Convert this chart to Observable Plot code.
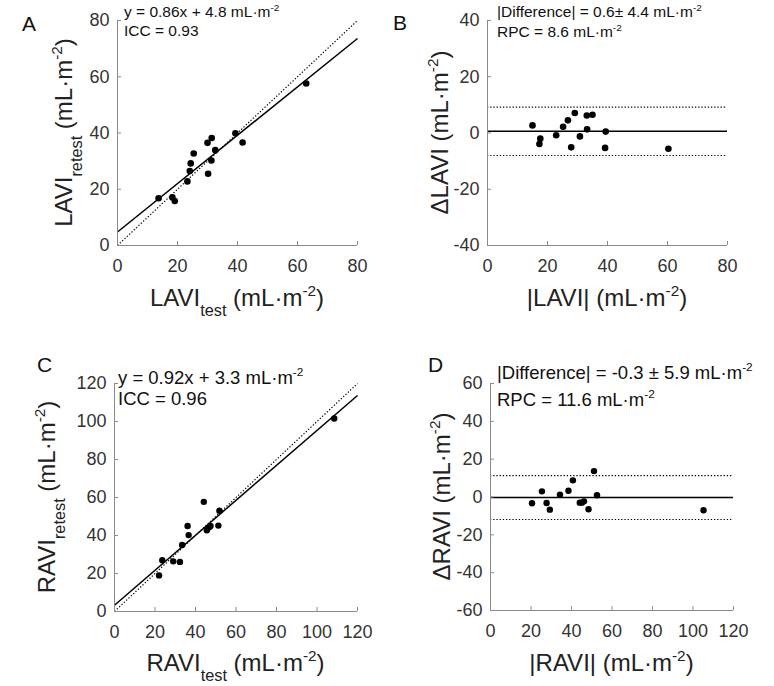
<!DOCTYPE html>
<html>
<head>
<meta charset="utf-8">
<script src="https://cdn.jsdelivr.net/npm/d3@7"></script>
<script src="https://cdn.jsdelivr.net/npm/@observablehq/plot@0.6"></script>
<style>
  body { margin: 0; background: #fff; }
  #fig { position: relative; width: 774px; height: 686px; overflow: hidden; background: #fff; }
  #fig svg { position: absolute; left: 0; top: 0; }
</style>
</head>
<body>
<div id="fig"></div>
<script>
// ---- Left atrial volume index (mL·m^-2), test vs retest ----
const laviTest   = [13.7, 18.3, 19.1, 23.3, 24.1, 24.4, 25.4, 30.0, 30.2, 31.4, 31.3, 32.6, 39.3, 41.7, 62.9];
const laviRetest = [16.8, 17.1, 15.8, 22.8, 26.5, 29.2, 32.7, 36.5, 25.5, 38.2, 30.2, 33.9, 39.9, 36.6, 57.6];
const laviSlope = 0.86, laviIntercept = 4.8, laviIcc = 0.93;

// Bland–Altman for LAVI: mean of the pair vs retest − test
const laviMean = [15.0, 17.6, 17.3, 22.9, 25.2, 26.8, 27.9, 29.1, 30.8, 33.1, 35.0, 33.2, 39.4, 39.2, 60.3];
const laviDiff = [2.7, -2.0, -3.9, -0.8, 2.2, 4.5, -5.1, 7.1, -1.2, 6.2, 6.5, 1.3, 0.5, -5.3, -5.6];
const laviBias = 0.6, laviSd = 4.4, laviRpc = 8.6;

// ---- Right atrial volume index (mL·m^-2), test vs retest ----
const raviTest   = [22.0, 23.6, 29.0, 32.3, 33.4, 36.1, 36.6, 44.1, 45.6, 46.7, 47.4, 51.3, 51.8, 108.5];
const raviRetest = [19.0, 27.0, 26.4, 26.1, 35.0, 45.0, 40.2, 57.7, 42.8, 44.3, 45.0, 45.2, 53.0, 101.6];
const raviSlope = 0.92, raviIntercept = 3.3, raviIcc = 0.96;

// Bland–Altman for RAVI
const raviMean = [20.5, 25.4, 27.7, 29.3, 34.3, 38.5, 40.7, 44.1, 45.1, 46.2, 48.4, 51.1, 52.6, 105.2];
const raviDiff = [-3.3, 3.0, -3.2, -6.7, 1.2, 3.3, 8.8, -3.0, -3.0, -2.3, -6.5, 13.7, 0.9, -7.0];
const raviBias = -0.3, raviSd = 5.9, raviRpc = 11.6;

// ---- Axis ticks ----
const laviTicks     = [0, 20, 40, 60, 80];
const laviDiffTicks = [-40, -20, 0, 20, 40];
const raviTicks     = [0, 20, 40, 60, 80, 100, 120];
const raviDiffTicks = [-60, -40, -20, 0, 20, 40, 60];

// ---- Styling ----
const W = 774, H = 686;
const FONT = "'Liberation Sans', Arial, Helvetica, sans-serif";
const axisColor = "#8a8a8a";
const tickColor = "#333";
const labelColor = "#222";
const dotted = {stroke: "black", strokeWidth: 1.2, strokeDasharray: "1.3,1.9"};
const solid = {stroke: "black", strokeWidth: 1.5};

const fig = document.getElementById("fig");

// Text with sub/superscript pieces; parts are strings or {t, sub|sup}
function richText(svg, x, y, parts, {size, anchor = "start", rotate = 0, fill = labelColor}) {
  const t = d3.select(svg).append("text")
    .attr("transform", `translate(${x},${y})` + (rotate ? ` rotate(${rotate})` : ""))
    .attr("text-anchor", anchor)
    .attr("font-family", FONT)
    .attr("font-size", size)
    .attr("fill", fill);
  let cur = 0;
  for (const p of parts) {
    const piece = typeof p === "string" ? {t: p} : p;
    let target = 0, fs = size;
    if (piece.sub) { target = size * 0.42; fs = size * 0.68; }
    if (piece.sup) { target = -size * 0.42; fs = size * 0.64; }
    t.append("tspan")
      .attr("dy", target - cur)
      .attr("font-size", fs)
      .text(piece.t);
    cur = target;
  }
  return t;
}

function panel(c) {
  const [x0] = c.xDomain, [y0] = c.yDomain;
  const svg = Plot.plot({
    width: W, height: H,
    marginLeft: c.frame.left, marginRight: W - c.frame.right,
    marginTop: c.frame.top, marginBottom: H - c.frame.bottom,
    style: {background: "transparent", overflow: "visible", fontFamily: FONT},
    x: {domain: c.xDomain},
    y: {domain: c.yDomain},
    marks: [
      ...c.marks,
      // axis lines and inward ticks
      Plot.ruleY([y0], {stroke: axisColor, strokeWidth: 1}),
      Plot.ruleX([x0], {stroke: axisColor, strokeWidth: 1}),
      Plot.ruleX(c.xTicks, {x: d => d, y1: y0, y2: y0, insetBottom: 4, stroke: axisColor}),
      Plot.ruleY(c.yTicks, {y: d => d, x1: x0, x2: x0, insetRight: -4, stroke: axisColor}),
      Plot.axisX(c.xTicks, {anchor: "bottom", tickSize: 0, tickPadding: 14, fontSize: 18, fill: tickColor, label: null, tickFormat: d => String(d)}),
      Plot.axisY(c.yTicks, {anchor: "left", tickSize: 0, tickPadding: 8, fontSize: 18, fill: tickColor, label: null, tickFormat: d => String(d)})
    ]
  });
  const cx = (c.frame.left + c.frame.right) / 2;
  const cy = (c.frame.top + c.frame.bottom) / 2;
  richText(svg, cx, c.xLabelY, c.xLabel, {size: 24, anchor: "middle"});
  richText(svg, c.yLabelX, cy, c.yLabel, {size: 24, anchor: "middle", rotate: -90});
  richText(svg, c.letter.x, c.letter.y, [c.letter.t], {size: 21, fill: "#111"});
  c.notes.forEach((n, i) => richText(svg, c.noteX, c.noteY[i], n, {size: c.noteSize, fill: "#111"}));
  fig.appendChild(svg);
}

const unit = [" (mL·m", {t: "-2", sup: true}, ")"];
const unitTail = [" mL·m", {t: "-2", sup: true}];

// A: LAVI test vs retest
panel({
  frame: {left: 117, right: 357, top: 20, bottom: 245},
  xDomain: [0, 80], yDomain: [0, 80],
  xTicks: laviTicks, yTicks: laviTicks,
  marks: [
    Plot.link([0], {x1: 0, y1: 0, x2: 80, y2: 80, ...dotted}),
    Plot.link([0], {x1: 0, y1: laviIntercept, x2: 80, y2: laviSlope * 80 + laviIntercept, ...solid}),
    Plot.dot(laviTest, {x: laviTest, y: laviRetest, r: 3.3, fill: "black"})
  ],
  xLabel: ["LAVI", {t: "test", sub: true}, ...unit], xLabelY: 306,
  yLabel: ["LAVI", {t: "retest", sub: true}, ...unit], yLabelX: 72,
  letter: {t: "A", x: 22, y: 31},
  noteX: 124, noteY: [17, 36], noteSize: 15.5,
  notes: [[`y = ${laviSlope}x + ${laviIntercept}`, ...unitTail], [`ICC = ${laviIcc}`]]
});

// B: LAVI Bland–Altman
panel({
  frame: {left: 487, right: 727, top: 20, bottom: 245},
  xDomain: [0, 80], yDomain: [-40, 40],
  xTicks: laviTicks, yTicks: laviDiffTicks,
  marks: [
    Plot.ruleY([laviBias + laviRpc, laviBias - laviRpc], dotted),
    Plot.ruleY([laviBias], solid),
    Plot.dot(laviMean, {x: laviMean, y: laviDiff, r: 3.3, fill: "black"})
  ],
  xLabel: ["|LAVI|", ...unit], xLabelY: 306,
  yLabel: ["ΔLAVI", ...unit], yLabelX: 448,
  letter: {t: "B", x: 393, y: 30},
  noteX: 497, noteY: [17, 37], noteSize: 15.5,
  notes: [[`|Difference| = ${laviBias}± ${laviSd}`, ...unitTail], [`RPC = ${laviRpc}`, ...unitTail]]
});

// C: RAVI test vs retest
panel({
  frame: {left: 114, right: 357, top: 383, bottom: 611},
  xDomain: [0, 120], yDomain: [0, 120],
  xTicks: raviTicks, yTicks: raviTicks,
  marks: [
    Plot.link([0], {x1: 0, y1: 0, x2: 120, y2: 120, ...dotted}),
    Plot.link([0], {x1: 0, y1: raviIntercept, x2: 120, y2: raviSlope * 120 + raviIntercept, ...solid}),
    Plot.dot(raviTest, {x: raviTest, y: raviRetest, r: 3.2, fill: "black"})
  ],
  xLabel: ["RAVI", {t: "test", sub: true}, ...unit], xLabelY: 671,
  yLabel: ["RAVI", {t: "retest", sub: true}, ...unit], yLabelX: 55,
  letter: {t: "C", x: 37, y: 372},
  noteX: 118, noteY: [384, 405], noteSize: 18.5,
  notes: [[`y = ${raviSlope}x + ${raviIntercept}`, ...unitTail], [`ICC = ${raviIcc}`]]
});

// D: RAVI Bland–Altman
panel({
  frame: {left: 490, right: 733, top: 383, bottom: 610},
  xDomain: [0, 120], yDomain: [-60, 60],
  xTicks: raviTicks, yTicks: raviDiffTicks,
  marks: [
    Plot.ruleY([raviBias + raviRpc, raviBias - raviRpc], dotted),
    Plot.ruleY([raviBias], solid),
    Plot.dot(raviMean, {x: raviMean, y: raviDiff, r: 3.2, fill: "black"})
  ],
  xLabel: ["|RAVI|", ...unit], xLabelY: 671,
  yLabel: ["ΔRAVI", ...unit], yLabelX: 450,
  letter: {t: "D", x: 428, y: 372},
  noteX: 497, noteY: [379, 406], noteSize: 18.5,
  notes: [[`|Difference| = ${raviBias} ± ${raviSd}`, ...unitTail], [`RPC = ${raviRpc}`, ...unitTail]]
});
</script>
</body>
</html>
